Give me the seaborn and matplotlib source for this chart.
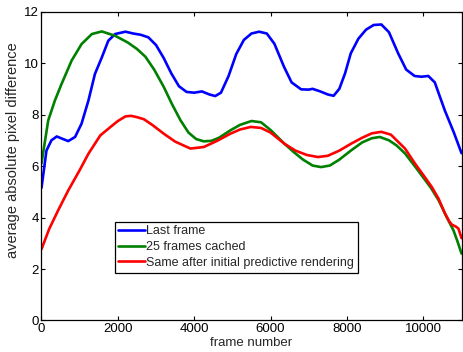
import pandas as pd
import seaborn as sns
import matplotlib.pyplot as plt

# values
last_x = [0, 130, 260, 400, 530, 700, 880, 1050, 1230, 1400, 1580, 1750, 1930, 2200,
          2400, 2600, 2800, 3000, 3200, 3400, 3600, 3800, 4000, 4200, 4400, 4550, 4700,
          4900, 5100, 5300, 5500, 5700, 5900, 6100, 6350, 6550, 6800, 7000, 7100, 7300,
          7500, 7650, 7800, 7950, 8100, 8300, 8500, 8700, 8900, 9100, 9340, 9550, 9770,
          9950, 10130, 10300, 10560, 10800, 11000]
last_y = [5.15, 6.6, 7.0, 7.15, 7.07, 6.97, 7.13, 7.65, 8.55, 9.58, 10.22, 10.87, 11.13,
          11.22, 11.15, 11.1, 11.0, 10.7, 10.2, 9.6, 9.1, 8.88, 8.85, 8.9, 8.78, 8.72, 8.85,
          9.5, 10.35, 10.9, 11.15, 11.22, 11.15, 10.75, 9.86, 9.25, 8.98, 8.97, 9.0, 8.9,
          8.78, 8.73, 9.0, 9.6, 10.38, 10.95, 11.3, 11.48, 11.5, 11.2, 10.38, 9.75, 9.5,
          9.47, 9.5, 9.25, 8.17, 7.3, 6.5]

cached_x = [0, 176, 352, 526, 790, 1050, 1320, 1580, 1930, 2260, 2500, 2720, 2950, 3200,
            3420, 3640, 3850, 4050, 4250, 4450, 4650, 4950, 5200, 5500, 5750, 6000, 6360,
            6600, 6850, 7100, 7320, 7550, 7800, 8110, 8400, 8650, 8860, 9100, 9300, 9520,
            9800, 10000, 10200, 10400, 10600, 10790, 10900, 11000]
cached_y = [6.1, 7.77, 8.55, 9.19, 10.1, 10.74, 11.13, 11.23, 11.06, 10.8, 10.55, 10.25,
            9.75, 9.08, 8.4, 7.78, 7.3, 7.05, 6.96, 6.98, 7.1, 7.39, 7.6, 7.75, 7.7, 7.4,
            6.87, 6.55, 6.25, 6.02, 5.96, 6.02, 6.25, 6.61, 6.92, 7.08, 7.13, 7.0, 6.8, 6.49,
            5.95, 5.55, 5.15, 4.67, 4.05, 3.5, 3.05, 2.6]

pred_x = [0, 200, 440, 700, 1000, 1230, 1540, 1800, 2000, 2200, 2350, 2500, 2680, 2900,
          3200, 3500, 3900, 4250, 4600, 4950, 5200, 5480, 5750, 6000, 6360, 6650, 6950,
          7240, 7500, 7800, 8110, 8400, 8650, 8900, 9150, 9520, 9780, 10000, 10220, 10400,
          10570, 10680, 10750, 10850, 10920, 11000]
pred_y = [2.77, 3.55, 4.29, 5.05, 5.84, 6.48, 7.19, 7.51, 7.75, 7.93, 7.95, 7.9, 7.82,
          7.6, 7.26, 6.95, 6.68, 6.74, 6.98, 7.26, 7.42, 7.52, 7.48, 7.3, 6.87, 6.6, 6.43,
          6.35, 6.4, 6.6, 6.87, 7.1, 7.27, 7.33, 7.22, 6.68, 6.1, 5.65, 5.19, 4.73, 4.15,
          3.85, 3.72, 3.65, 3.57, 3.2]

labels = ['Last frame', '25 frames cached', 'Same after initial predictive rendering']
colors = ['#0000ff', '#008000', '#ff0000']

df = pd.concat([
    pd.DataFrame({'frame': last_x, 'diff': last_y, 'series': labels[0]}),
    pd.DataFrame({'frame': cached_x, 'diff': cached_y, 'series': labels[1]}),
    pd.DataFrame({'frame': pred_x, 'diff': pred_y, 'series': labels[2]}),
], ignore_index=True)

sns.set_style('ticks')
plt.rcParams['font.family'] = ['Liberation Sans', 'DejaVu Sans']
plt.rcParams['xtick.direction'] = 'in'
plt.rcParams['ytick.direction'] = 'in'
plt.rcParams['xtick.top'] = True
plt.rcParams['ytick.right'] = True

fig = plt.figure(figsize=(4.63, 3.52), dpi=100)
ax = fig.add_axes([0.0896, 0.0895, 0.9072, 0.8775])

sns.lineplot(data=df, x='frame', y='diff', hue='series', palette=dict(zip(labels, colors)),
             linewidth=1.9, sort=False, estimator=None, ax=ax)

ax.set_xlim(0, 11000)
ax.set_ylim(0, 12)
ax.set_xticks(range(0, 11000, 2000))
ax.set_yticks(range(0, 13, 2))
ax.tick_params(labelsize=9.5, length=3, width=0.8, color='black', labelcolor='black', pad=2)
for s in ax.spines.values():
    s.set_visible(True)
    s.set_color('black')
    s.set_linewidth(0.9)
ax.set_xlabel('frame number', fontsize=9.5, labelpad=1)
ax.set_ylabel('average absolute pixel difference', fontsize=10.5)
ax.yaxis.set_label_coords(-0.05, 0.552)

leg = ax.legend(loc='lower left', bbox_to_anchor=(0.174, 0.155), borderaxespad=0,
                fontsize=9, frameon=True, fancybox=False, edgecolor='black',
                handlelength=2.1, handletextpad=0.15, borderpad=0.3, labelspacing=0.3,
                framealpha=1)
leg.get_frame().set_linewidth(0.9)

fig.savefig('out.png', dpi=100)
